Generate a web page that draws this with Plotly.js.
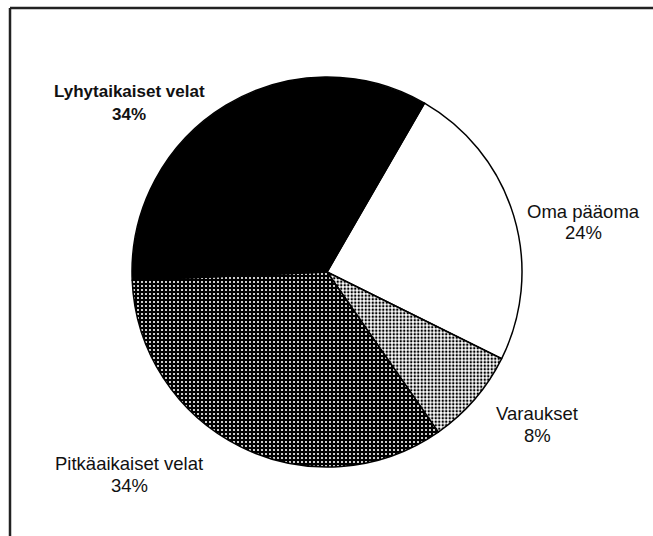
<!DOCTYPE html>
<html>
<head>
<meta charset="utf-8">
<script src="https://cdn.plot.ly/plotly-3.0.1.min.js"></script>
<style>html,body{margin:0;padding:0;background:#fff;}#chart{width:653px;height:536px;}</style>
</head>
<body>
<div id="chart"></div>
<script>
const categories = ["Oma pääoma", "Varaukset", "Pitkäaikaiset velat", "Lyhytaikaiset velat"];
const values = [24, 8, 34, 34];
const percentLabels = ["24%", "8%", "34%", "34%"];

const W = 653, H = 536;
const cx = 327, cy = 272, R = 195;

const trace = {
  type: "pie",
  labels: categories,
  values: values,
  sort: false,
  direction: "clockwise",
  rotation: 30,
  textinfo: "none",
  hoverinfo: "label+percent",
  showlegend: false,
  domain: {x: [(cx - R) / W, (cx + R) / W], y: [(H - cy - R) / H, (H - cy + R) / H]},
  marker: {
    colors: ["#ffffff", "#ffffff", "#000000", "#000000"],
    line: {color: "#000000", width: 1.5},
    pattern: {
      shape: ["", ".", ".", ""],
      fgcolor: ["#000000", "#000000", "#ffffff", "#000000"],
      bgcolor: ["#ffffff", "#ffffff", "#000000", "#000000"],
      size: [4, 3.5, 4, 4],
      solidity: [0.3, 0.4, 0.22, 0.3],
      fillmode: "replace"
    }
  }
};

const labelPos = [[583, 222], [537, 424], [129, 474], [129, 103]];
const annotations = [];
categories.forEach((c, i) => {
  const bold = i === 3;
  const font = {family: "Liberation Sans, Arial, sans-serif", size: bold ? 17 : 18.5, color: "#111"};
  const lines = [c, percentLabels[i]];
  lines.forEach((t, k) => {
    annotations.push({
      xref: "paper", yref: "paper",
      x: labelPos[i][0] / W, y: 1 - (labelPos[i][1] + (k === 0 ? -11 : 11)) / H,
      xanchor: "center", yanchor: "middle",
      showarrow: false,
      text: bold ? "<b>" + t + "</b>" : t,
      font: font
    });
  });
});

const layout = {
  width: W, height: H,
  margin: {l: 0, r: 0, t: 0, b: 0},
  paper_bgcolor: "#ffffff",
  annotations: annotations,
  shapes: [
    {type: "line", xref: "paper", yref: "paper", x0: 10 / W, x1: 1.02, y0: 1 - 8 / H, y1: 1 - 8 / H, line: {color: "#222", width: 2.5}},
    {type: "line", xref: "paper", yref: "paper", x0: 10 / W, x1: 10 / W, y0: 1 - 8 / H, y1: -0.02, line: {color: "#222", width: 2.5}}
  ]
};

Plotly.newPlot("chart", [trace], layout, {staticPlot: true});
</script>
</body>
</html>
